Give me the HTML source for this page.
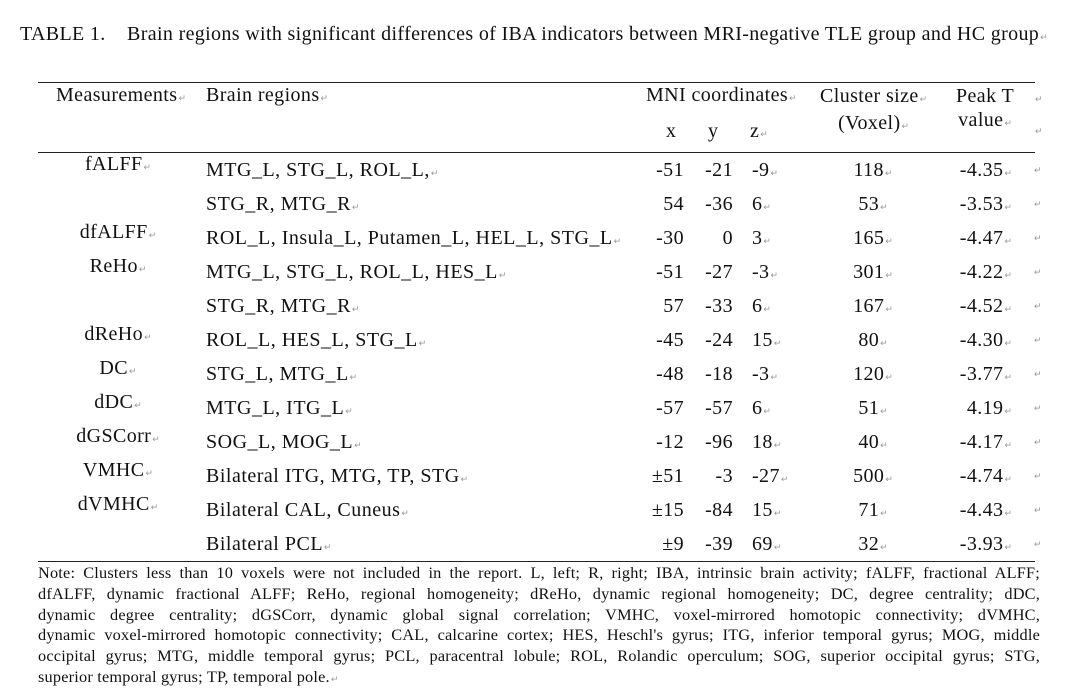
<!DOCTYPE html>
<html><head><meta charset="utf-8"><style>
body{margin:0;width:1076px;height:690px;background:#fff;position:relative;overflow:hidden;font-family:"Liberation Serif",serif;color:#111}
.a{position:absolute;white-space:nowrap;font-size:20px;line-height:34px;letter-spacing:0.4px}
.m{font-size:9px;color:#999;margin-left:1px;letter-spacing:0}
.rule{position:absolute;left:38px;width:997px;height:1.3px;background:#222}
.note{position:absolute;left:38px;top:563px;width:1002px;font-size:16.3px;line-height:20.8px;letter-spacing:0.2px}
.note div{text-align:justify;text-align-last:justify;white-space:nowrap;overflow:visible}
.note div.last{text-align-last:left}
</style></head><body>
<div class="a" style="left:20px;top:17px;letter-spacing:0.35px">TABLE 1.&nbsp;&nbsp;&nbsp; Brain regions with significant differences of IBA indicators between MRI-negative TLE group and HC group<span class="m">↵</span></div>
<div class="rule" style="top:82px"></div>
<div class="rule" style="top:152px"></div>
<div class="rule" style="top:561px"></div>
<div class="a" style="left:56px;top:78px">Measurements<span class="m">↵</span></div>
<div class="a" style="left:206px;top:78px">Brain regions<span class="m">↵</span></div>
<div class="a" style="left:646px;top:78px">MNI coordinates<span class="m">↵</span></div>
<div class="a" style="left:666px;top:114px">x</div>
<div class="a" style="left:708px;top:114px">y</div>
<div class="a" style="left:750px;top:114px">z<span class="m">↵</span></div>
<div class="a" style="left:820px;text-align:center;line-height:24px;top:84px">Cluster size<span class="m">↵</span><br>(Voxel)<span class="m">↵</span></div>
<div class="a" style="left:956px;top:84px;text-align:center;line-height:24px">Peak T<br>value<span class="m">↵</span></div>
<div class="a m" style="left:1034px;top:82px">↵</div>
<div class="a m" style="left:1034px;top:114px">↵</div>
<div id="rows"></div>
<div class="note">
<div>Note: Clusters less than 10 voxels were not included in the report. L, left; R, right; IBA, intrinsic brain activity; fALFF, fractional ALFF;</div>
<div>dfALFF, dynamic fractional ALFF; ReHo, regional homogeneity; dReHo, dynamic regional homogeneity; DC, degree centrality; dDC,</div>
<div>dynamic degree centrality; dGSCorr, dynamic global signal correlation; VMHC, voxel-mirrored homotopic connectivity; dVMHC,</div>
<div>dynamic voxel-mirrored homotopic connectivity; CAL, calcarine cortex; HES, Heschl's gyrus; ITG, inferior temporal gyrus; MOG, middle</div>
<div>occipital gyrus; MTG, middle temporal gyrus; PCL, paracentral lobule; ROL, Rolandic operculum; SOG, superior occipital gyrus; STG,</div>
<div class="last">superior temporal gyrus; TP, temporal pole.<span class="m">↵</span></div>
</div>
<script>
const measures=["fALFF","","dfALFF","ReHo","","dReHo","DC","dDC","dGSCorr","VMHC","dVMHC",""];
const regions=["MTG_L, STG_L, ROL_L,","STG_R, MTG_R","ROL_L, Insula_L, Putamen_L, HEL_L, STG_L","MTG_L, STG_L, ROL_L, HES_L","STG_R, MTG_R","ROL_L, HES_L, STG_L","STG_L, MTG_L","MTG_L, ITG_L","SOG_L, MOG_L","Bilateral ITG, MTG, TP, STG","Bilateral CAL, Cuneus","Bilateral PCL"];
const xs=["-51","54","-30","-51","57","-45","-48","-57","-12","±51","±15","±9"];
const ys=["-21","-36","0","-27","-33","-24","-18","-57","-96","-3","-84","-39"];
const zs=["-9","6","3","-3","6","15","-3","6","18","-27","15","69"];
const sizes=["118","53","165","301","167","80","120","51","40","500","71","32"];
const peaks=["-4.35","-3.53","-4.47","-4.22","-4.52","-4.30","-3.77","4.19","-4.17","-4.74","-4.43","-3.93"];
const root=document.getElementById('rows');
function cell(html,style,name){const d=document.createElement('div');d.className='a';d.innerHTML=html;d.style.cssText=style;


root.appendChild(d);}
const M='<span class="m">↵</span>';
regions.forEach((r,i)=>{const t=153+34*i;
 if(measures[i])cell(measures[i]+M,`left:38px;width:160px;text-align:center;top:${t-6}px`,'measurement-'+i);
 cell(r+M,`left:206px;top:${t}px;letter-spacing:0.5px`,'region-'+i);
 cell(xs[i],`left:600px;width:84px;text-align:right;top:${t}px`,'x-'+i);
 cell(ys[i],`left:690px;width:43px;text-align:right;top:${t}px`,'y-'+i);
 cell(zs[i]+M,`left:752px;top:${t}px`,'z-'+i);
 cell(sizes[i]+M,`left:821px;width:104px;text-align:center;top:${t}px`,'cluster-'+i);
 cell(peaks[i]+M,`left:900px;width:112px;text-align:right;top:${t}px`,'peak-'+i);
 cell('↵',`left:1034px;top:${t}px;font-size:9px;color:#999`,'row-mark-'+i);
});
</script>
</body></html>
